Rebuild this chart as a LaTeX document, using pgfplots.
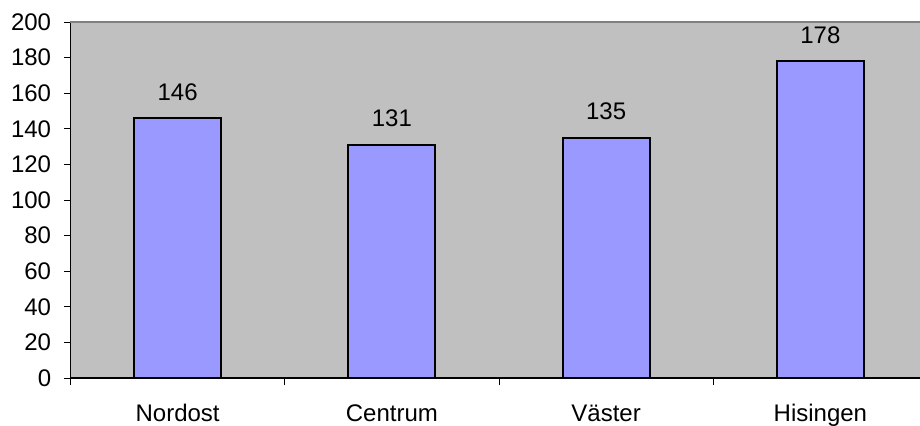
\documentclass[border=0pt]{standalone}
\usepackage{fontspec}
\setmainfont{Liberation Sans}
\usepackage{pgfplots}
\pgfplotsset{compat=1.18}
\definecolor{plotbg}{HTML}{C0C0C0}
\definecolor{barfill}{HTML}{9999FF}
\definecolor{topline}{HTML}{808080}
\begin{document}
\begin{tikzpicture}
\begin{axis}[
  at={(0,0)}, anchor=south west,
  scale only axis,
  width=424.75pt, height=178pt,
  /pgf/number format/assume math mode=true,
  xmin=-0.5, xmax=3.465,
  ymin=0, ymax=200,
  axis background/.style={fill=plotbg},
  axis x line*=bottom, axis y line*=left,
  axis line style={black, line width=0.6pt},
  xtick={0,1,2,3},
  xticklabels={Nordost,Centrum,Väster,Hisingen},
  major x tick style={draw=none},
  minor xtick={-0.5,0.5,1.5,2.5},
  minor x tick style={black, line width=0.5pt},
  minor tick length=3.5pt,
  ytick={0,20,...,200},
  major tick length=3pt,
  y tick style={black, line width=0.5pt},
  tick align=outside,
  every tick label/.append style={font=\fontsize{12}{14}\selectfont},
  xticklabel style={anchor=base, inner sep=0pt, yshift=-18.5pt},
  yticklabel style={anchor=east, inner sep=0pt, xshift=-6.5pt},
  clip=false,
]
\draw[topline, line width=0.8pt] (rel axis cs:0,1) -- (rel axis cs:1,1);
\addplot[ybar, bar width=0.405, fill=barfill, draw=black, line width=1pt,
  nodes near coords,
  every node near coord/.append style={font=\fontsize{12}{14}\selectfont, anchor=base, yshift=9pt, black}]
  coordinates {(0,146) (1,131) (2,135) (3,178)};
\end{axis}
\pgfresetboundingbox
\path[use as bounding box] (-35.25pt,-23.5pt) rectangle (424.75pt,189pt);
\end{tikzpicture}
\end{document}
